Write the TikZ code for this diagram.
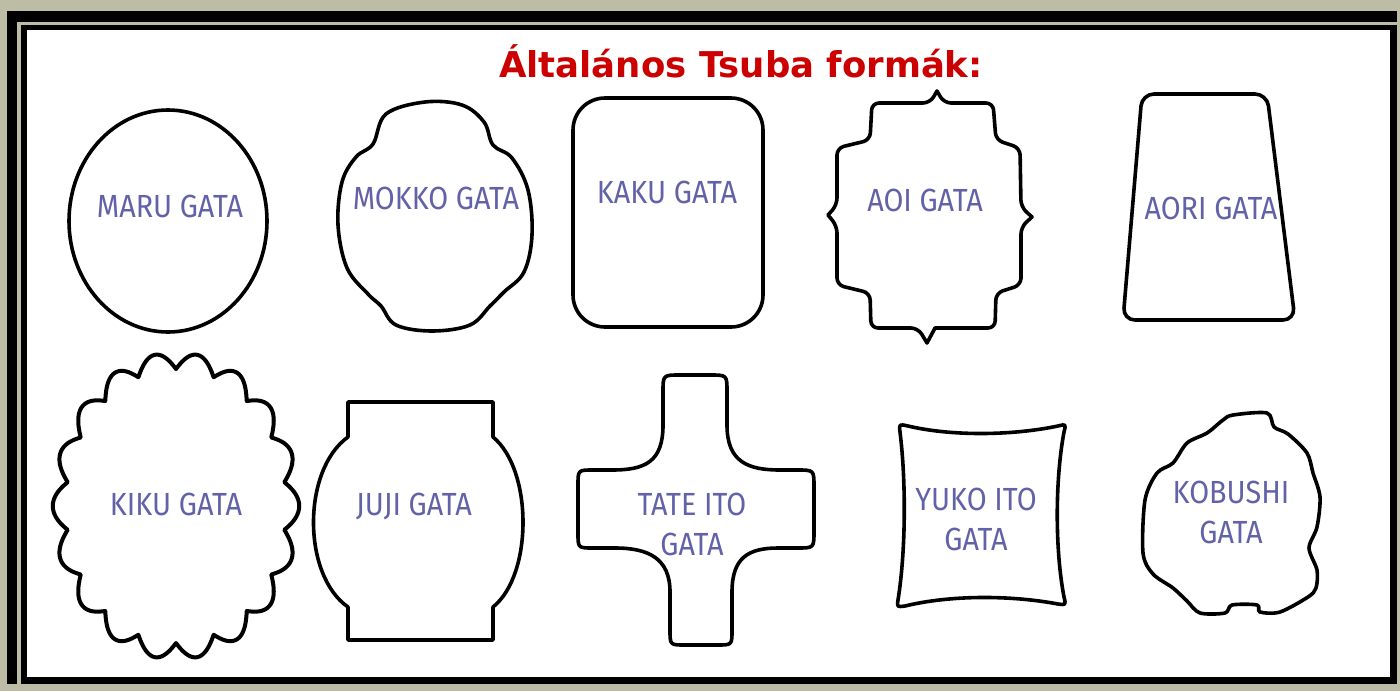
\documentclass[tikz,border=0pt]{standalone}
\usepackage{fontspec}
\newfontfamily\titlefont{DejaVu Sans}
\newfontfamily\labfont[FakeStretch=0.9]{Fira Sans}
\definecolor{framebg}{RGB}{189,189,165}
\definecolor{titlered}{RGB}{204,0,0}
\definecolor{labblue}{RGB}{98,98,168}
\tikzset{
  tsuba/.style={draw=black, line width=3.6pt, line join=round},
  lab/.style={text=labblue, font=\labfont\fontsize{32}{40}\selectfont, align=center, inner sep=0pt},
}
\begin{document}
\begin{tikzpicture}[x=1pt,y=-1pt]
\useasboundingbox (0,0) rectangle (1400,691);
% frame
\fill[framebg] (0,0) rectangle (1400,691);
\fill[black] (7,11) rectangle (1397,684);
\fill[framebg] (17,22) rectangle (1397,684);
\fill[black] (21,25) rectangle (1397,684);
\fill[white] (27,30) rectangle (1390,677);
% title
\node[text=titlered, font=\titlefont\bfseries\fontsize{35.5}{42}\selectfont, inner sep=0pt] (title) at (741,61) {Általános Tsuba formák:};

% MARU
\draw[tsuba] (168,221) ellipse [x radius=99, y radius=111];
\node[lab] (maru) at (170,206) {MARU GATA};

% MOKKO
\draw[tsuba] plot[smooth cycle, tension=0.6] coordinates {
 (425,102) (462,105) (484,122) (493,145) (512,158) (528,190) (532,235) (524,272) (504,292)
 (490,306) (470,325) (432,331) (396,325) (381,306) (368,294) (347,268) (338,225) (342,182)
 (356,157) (373,144) (386,114)};
\node[lab] (mokko) at (436,198) {MOKKO GATA};

% KAKU
\draw[tsuba, rounded corners=32] (573,98) rectangle (763,327);
\node[lab] (kaku) at (667,192) {KAKU GATA};

% AOI
\draw[tsuba] (937,91) [rounded corners=7] -- (944,103) -- (993,103) -- (996,140) -- (1020,148) -- (1021,207)
 [sharp corners] -- (1032,217) [rounded corners=7] -- (1021,227) -- (1021,285) -- (996,293) -- (995,328)
 [sharp corners] -- (935,328) -- (927,343) [rounded corners=7] -- (918,328) -- (871,328) -- (870,293)
 -- (837,285) -- (837,226) [sharp corners] -- (828,215) [rounded corners=7] -- (837,205) -- (837,148)
 -- (870,140) -- (872,103) -- (930,103) [sharp corners] -- cycle;
\node[lab] (aoi) at (925,200) {AOI GATA};

% AORI
\draw[tsuba, rounded corners=12] (1142,94) -- (1267,94) -- (1295,320) -- (1123,320) -- cycle;
\node[lab] (aori) at (1211,208) {AORI GATA};

% KIKU
\draw[tsuba, line width=4pt] plot[domain=0:360, samples=721]
 ({176+110*(1+0.12*abs(cos(9*\x)))*cos(\x)}, {506+137*(1+0.12*abs(cos(9*\x)))*sin(\x)}) -- cycle;
\node[lab] (kiku) at (176,504) {KIKU GATA};

% JUJI
\draw[tsuba] (348,402) -- (493,402) -- (493,437) .. controls (533,470) and (533,575) .. (493,607)
 -- (493,640) -- (348,640) -- (348,607) .. controls (302,575) and (302,470) .. (348,437) -- cycle;
\node[lab] (juji) at (414,506) {JUJI GATA};

% TATE ITO
\draw[tsuba] (663,425) -- (663,392) .. controls (663,375) .. (680,375) -- (710,375)
 .. controls (727,375) .. (727,392) -- (727,425) .. controls (727,462) and (748,470) .. (780,470)
 -- (797,470) .. controls (814,470) .. (814,487) -- (814,531) .. controls (814,548) .. (797,548)
 -- (778,548) .. controls (748,548) and (732,558) .. (732,592) -- (732,630)
 .. controls (732,645) .. (717,645) -- (685,645) .. controls (670,645) .. (670,630) -- (670,592)
 .. controls (670,558) and (648,548) .. (615,548) -- (593,548) .. controls (578,548) .. (578,533)
 -- (578,485) .. controls (578,470) .. (593,470) -- (612,470) .. controls (645,470) and (663,462) .. (663,425) -- cycle;
\node[lab] (tate) at (692,524) {TATE ITO\\GATA};

% YUKO ITO
\draw[tsuba] (908,426) .. controls (950,436) and (1010,436) .. (1058,426) .. controls (1066,424) .. (1064,432)
 .. controls (1055,480) and (1055,550) .. (1064,597) .. controls (1066,605) .. (1058,604)
 .. controls (1010,595) and (950,595) .. (905,606) .. controls (897,607) .. (898,600)
 .. controls (906,550) and (906,480) .. (900,432) .. controls (899,424) .. (908,426) -- cycle;
\node[lab] (yuko) at (976,519) {YUKO ITO\\GATA};

% KOBUSHI
\draw[tsuba] plot[smooth cycle, tension=0.5] coordinates {
 (1233,415) (1267,413) (1274,427) (1288,434) (1307,453) (1313,473) (1320,497) (1317,527)
 (1309,548) (1317,570) (1316,588) (1308,597) (1280,612) (1260,612) (1257,605) (1232,605)
 (1225,613) (1200,613) (1187,601) (1173,588) (1153,574) (1143,553) (1145,500) (1157,473)
 (1173,463) (1187,443) (1207,433) (1223,420)};
\node[lab] (kobushi) at (1231,512) {KOBUSHI\\GATA};
\end{tikzpicture}
\end{document}
